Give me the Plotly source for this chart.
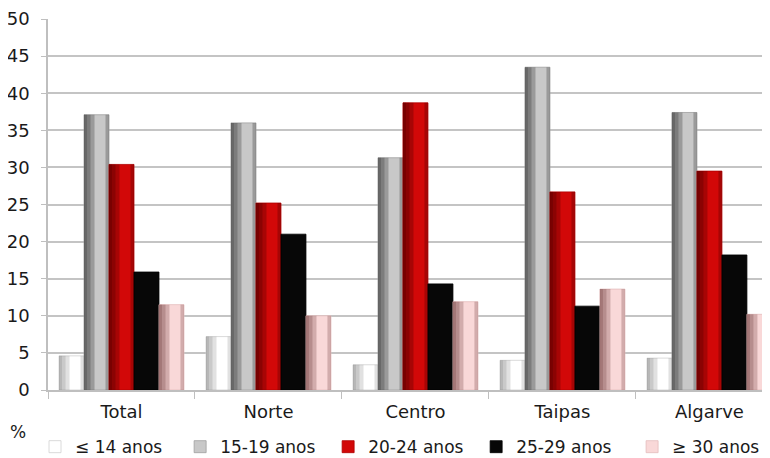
import plotly.graph_objects as go

categories = ["Total", "Norte", "Centro", "Taipas", "Algarve"]
series_names = ["≤ 14 anos", "15-19 anos", "20-24 anos", "25-29 anos", "≥ 30 anos"]
v_le14 = [4.6, 7.2, 3.4, 4.0, 4.3]
v_15_19 = [37.1, 36.0, 31.3, 43.5, 37.4]
v_20_24 = [30.4, 25.2, 38.7, 26.7, 29.5]
v_25_29 = [15.9, 21.0, 14.3, 11.3, 18.2]
v_ge30 = [11.5, 10.0, 11.9, 13.6, 10.2]
y_ticks = [0, 5, 10, 15, 20, 25, 30, 35, 40, 45, 50]

# main colour, legend/edge colour, shading colour (left side of the cylinder-like bars)
colors = ["#FFFFFF", "#C8C8C8", "#D20808", "#070707", "#F9D8D8"]
lines = ["#D0D0D0", "#A0A0A0", "#B00000", "#000000", "#E4BCBC"]
shades = ["rgba(120,120,120,0.22)", "rgba(70,70,70,0.35)", "rgba(90,0,0,0.35)",
          "rgba(0,0,0,0.0)", "rgba(120,70,70,0.30)"]
values = [v_le14, v_15_19, v_20_24, v_25_29, v_ge30]
legend_ids = ["legend", "legend2", "legend3", "legend4", "legend5"]
legend_x = [-0.018, 0.183, 0.388, 0.593, 0.809]

FONT = "DejaVu Sans"
TXT = "#1a1a1a"
GROUP_W = 0.85
SLOT = GROUP_W / len(series_names)

fig = go.Figure()
for i, (name, vals, c, lc, sh, lid) in enumerate(
        zip(series_names, values, colors, lines, shades, legend_ids)):
    off = -GROUP_W / 2 + i * SLOT
    fig.add_trace(go.Bar(
        x=categories, y=vals, name=name, legend=lid,
        offset=off, width=SLOT,
        marker=dict(color=c, line=dict(color=lc, width=0.8)),
    ))
    # gradient-like shading on the left side and a faint one on the right
    for frac in (0.42, 0.26, 0.12):
        fig.add_trace(go.Bar(
            x=categories, y=vals, showlegend=False, hoverinfo="skip",
            offset=off, width=SLOT * frac,
            marker=dict(color=sh, line=dict(width=0)),
        ))
    fig.add_trace(go.Bar(
        x=categories, y=vals, showlegend=False, hoverinfo="skip",
        offset=off + SLOT * 0.86, width=SLOT * 0.14,
        marker=dict(color=sh, line=dict(width=0)),
    ))

legends = {}
for lid, lx in zip(legend_ids, legend_x):
    legends[lid] = dict(
        orientation="h", x=lx, xanchor="left", y=-0.154, yanchor="middle",
        font=dict(family=FONT, size=17, color=TXT),
        bgcolor="rgba(0,0,0,0)", borderwidth=0,
        itemclick=False, itemdoubleclick=False,
    )

# page body has an 8px default margin, so the figure is 8px smaller
fig.update_layout(
    width=762, height=450,
    margin=dict(l=40, r=0, t=11, b=68, autoexpand=False),
    paper_bgcolor="white", plot_bgcolor="white",
    barmode="overlay",
    font=dict(family=FONT, size=17, color=TXT),
    showlegend=True,
    xaxis=dict(
        range=[-0.5, 4.412], automargin=False,
        showline=True, linecolor="#BFBFBF", linewidth=1.5,
        ticks="outside", tickson="boundaries", ticklen=7, tickcolor="#BFBFBF",
        tickfont=dict(family=FONT, size=18, color=TXT),
        ticklabelstandoff=5,
        showgrid=False, zeroline=False, fixedrange=True,
    ),
    yaxis=dict(
        range=[0, 50], tickvals=y_ticks, automargin=False,
        showline=True, linecolor="#BFBFBF", linewidth=1.5,
        ticks="outside", ticklen=5, tickcolor="#BFBFBF",
        tickfont=dict(family=FONT, size=18, color=TXT),
        ticklabelstandoff=8,
        showgrid=True, gridcolor="#C4C4C4", gridwidth=1.5,
        zeroline=False, fixedrange=True,
    ),
    annotations=[dict(
        text="%", xref="paper", yref="paper", x=-0.0416, y=-0.113,
        xanchor="center", yanchor="middle", showarrow=False,
        font=dict(family=FONT, size=17, color=TXT),
    )],
    **legends,
)

fig.write_html("out.html", config={"displayModeBar": False})
